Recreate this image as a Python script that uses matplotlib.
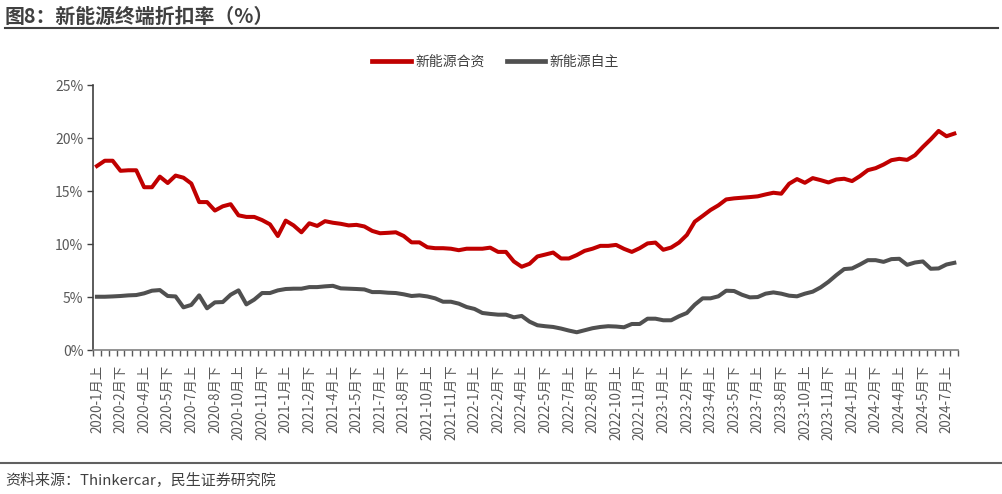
import matplotlib
matplotlib.use("Agg")
import matplotlib.pyplot as plt
import numpy as np

plt.rcParams['font.family'] = ['Noto Sans CJK SC', 'DejaVu Sans']

# Half-month periods 2020-1月上 .. 2024-7月下
years = [2020, 2021, 2022, 2023, 2024]
months = list(range(1, 13))
halves = ['上', '下']

# discount rate (%) of joint-venture NEV brands
jv_rate = [17.4, 17.9, 17.9, 16.95, 17.0, 17.0, 15.4, 15.4, 16.4, 15.8,
           16.5, 16.3, 15.75, 14.0, 14.0, 13.2, 13.6, 13.8, 12.75, 12.6,
           12.6, 12.3, 11.9, 10.8, 12.25, 11.8, 11.15, 12.0, 11.75, 12.2,
           12.05, 11.95, 11.8, 11.85, 11.7, 11.28, 11.06, 11.1, 11.15, 10.8,
           10.2, 10.2, 9.74, 9.65, 9.65, 9.6, 9.46, 9.6, 9.6, 9.6,
           9.7, 9.3, 9.3, 8.4, 7.9, 8.18, 8.87, 9.05, 9.24, 8.68,
           8.68, 9.0, 9.4, 9.6, 9.87, 9.87, 9.96, 9.59, 9.3, 9.65,
           10.1, 10.18, 9.5, 9.71, 10.18, 10.9, 12.15, 12.69, 13.25, 13.69,
           14.25, 14.35, 14.41, 14.47, 14.54, 14.72, 14.88, 14.79, 15.73, 16.17,
           15.82, 16.26, 16.07, 15.85, 16.13, 16.2, 15.98, 16.45, 17.01, 17.2,
           17.54, 17.95, 18.08, 17.98, 18.42, 19.2, 19.92, 20.71, 20.21, 20.46]

# discount rate (%) of domestic NEV brands
own_rate = [5.07, 5.07, 5.1, 5.14, 5.2, 5.23, 5.39, 5.64, 5.7, 5.14,
            5.1, 4.07, 4.3, 5.2, 3.98, 4.54, 4.57, 5.26, 5.67, 4.35,
            4.8, 5.42, 5.42, 5.67, 5.8, 5.83, 5.83, 5.98, 5.98, 6.05,
            6.1, 5.86, 5.83, 5.8, 5.76, 5.51, 5.51, 5.45, 5.42, 5.3,
            5.14, 5.2, 5.1, 4.92, 4.6, 4.6, 4.42, 4.1, 3.92, 3.54,
            3.45, 3.38, 3.38, 3.13, 3.26, 2.72, 2.38, 2.29, 2.22, 2.07,
            1.88, 1.72, 1.91, 2.1, 2.22, 2.29, 2.26, 2.19, 2.5, 2.5,
            3.0, 3.0, 2.85, 2.85, 3.23, 3.54, 4.32, 4.92, 4.92, 5.11,
            5.64, 5.61, 5.26, 5.01, 5.04, 5.36, 5.48, 5.36, 5.17, 5.11,
            5.36, 5.55, 5.95, 6.48, 7.11, 7.68, 7.74, 8.11, 8.52, 8.52,
            8.36, 8.62, 8.65, 8.08, 8.3, 8.4, 7.71, 7.74, 8.11, 8.27]

series_names = ['新能源合资', '新能源自主']
colors = ['#C00000', '#505050']

periods = [f"{y}-{m}月{h}" for y in years for m in months for h in halves]
periods = periods[:len(jv_rate)]

text_color = '#404040'
tick_color = '#595959'

fig = plt.figure(figsize=(10.03, 4.94), dpi=100)
ax = fig.add_axes([0.0927, 0.2905, 0.8627, 0.5365])

x = np.arange(len(periods))
ax.plot(x, jv_rate, color=colors[0], lw=2.9, label=series_names[0], solid_joinstyle='round')
ax.plot(x, own_rate, color=colors[1], lw=2.9, label=series_names[1], solid_joinstyle='round')

# axes
ax.set_xlim(-0.5, len(periods) - 0.5)
ax.set_ylim(0, 25)
ax.set_yticks([0, 5, 10, 15, 20, 25])
ax.set_yticklabels([f"{v}%" for v in [0, 5, 10, 15, 20, 25]], fontsize=10, color=tick_color)
ax.tick_params(axis='y', length=4, width=1, color='#404040', pad=3)

ax.set_xticks(x[::3])
ax.set_xticklabels(periods[::3], rotation=90, fontsize=9.6, color=tick_color)
ax.set_xticks(np.arange(-0.5, len(periods)), minor=True)
ax.tick_params(axis='x', which='major', length=0, pad=10)
ax.tick_params(axis='x', which='minor', length=4, width=1, color='#595959')

for side in ['top', 'right']:
    ax.spines[side].set_visible(False)
ax.spines['left'].set_color('#404040')
ax.spines['bottom'].set_color('#808080')
ax.spines['left'].set_linewidth(1.2)
ax.spines['bottom'].set_linewidth(1.2)

# legend above the plot
leg = fig.legend(loc='center', bbox_to_anchor=(0.494, 0.875), ncol=2, frameon=False,
                 fontsize=10, handlelength=2.8, columnspacing=1.6, handletextpad=0.3)
for t in leg.get_texts():
    t.set_color(text_color)
for h in leg.get_lines():
    h.set_linewidth(3.4)

# title, rules and source
fig.text(0.005, 0.966, '图8：新能源终端折扣率（%）', fontsize=14.3, fontweight='bold',
         color=text_color, va='center', ha='left')
fig.add_artist(plt.Line2D([0.005, 0.995], [0.944, 0.944], color='#404040', lw=1.5))
fig.add_artist(plt.Line2D([0.0, 0.998], [0.062, 0.062], color='#606060', lw=1.5))
fig.text(0.005, 0.027, '资料来源：Thinkercar，民生证券研究院', fontsize=10.8,
         color=text_color, va='center', ha='left')

fig.savefig('out.png', dpi=100)
